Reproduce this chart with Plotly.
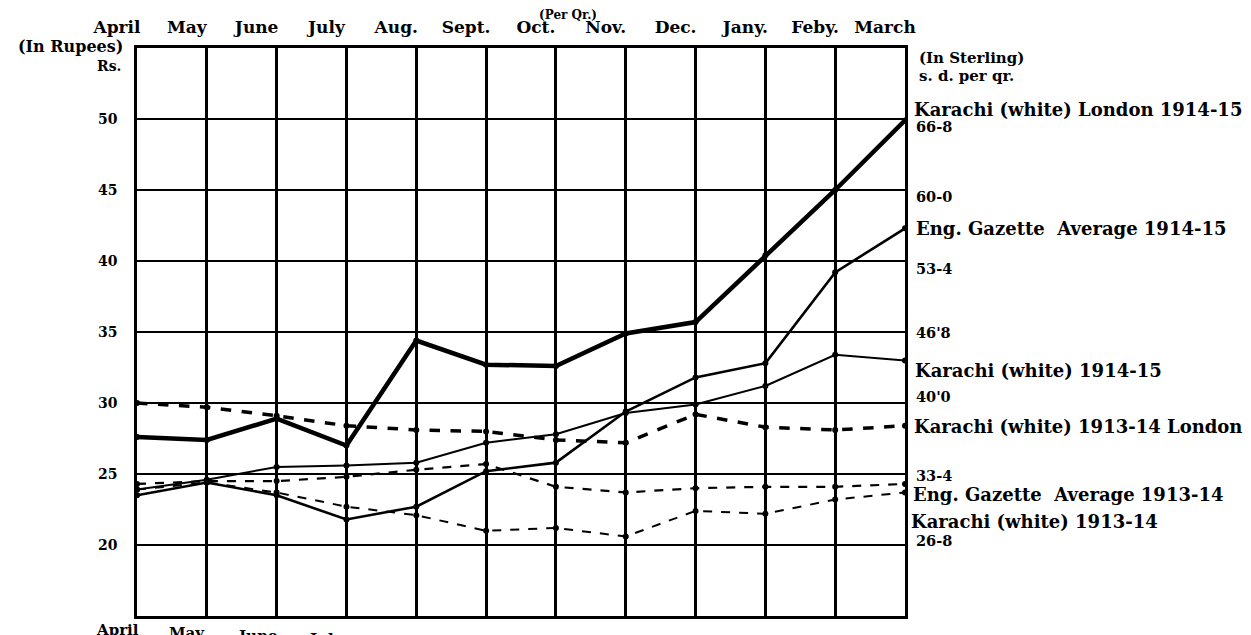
import plotly.graph_objects as go

# ---------------- data ----------------
months_top = ["April", "May", "June", "July", "Aug.", "Sept.", "Oct.", "Nov.",
              "Dec.", "Jany.", "Feby.", "March"]
months_bottom = ["April", "May", "June", "July", "Aug.", "Sept.", "Oct.", "Nov.",
                 "Dec.", "Jany.", "Feby.", "March"]
month_idx = list(range(12))

rupee_ticks = [20, 25, 30, 35, 40, 45, 50]
sterling_labels = ["26-8", "33-4", "40'0", "46'8", "53-4", "60-0", "66-8"]

karachi_london_1914 = [27.6, 27.4, 28.9, 27.0, 34.4, 32.7, 32.6, 34.9, 35.7, 40.4, 45.0, 49.9]
eng_gazette_1914 = [23.5, 24.4, 23.5, 21.8, 22.7, 25.2, 25.8, 29.4, 31.8, 32.8, 39.2, 42.3]
karachi_white_1914 = [23.9, 24.6, 25.5, 25.6, 25.8, 27.2, 27.8, 29.3, 29.9, 31.2, 33.4, 33.0]
karachi_london_1913 = [30.0, 29.7, 29.1, 28.4, 28.1, 28.0, 27.4, 27.2, 29.2, 28.3, 28.1, 28.4]
eng_gazette_1913 = [24.3, 24.5, 24.5, 24.8, 25.3, 25.7, 24.1, 23.7, 24.0, 24.1, 24.1, 24.3]
karachi_white_1913 = [23.9, 24.4, 23.7, 22.7, 22.1, 21.0, 21.2, 20.6, 22.4, 22.2, 23.2, 23.7]

series = [
    ("Karachi (white) London 1914-15", karachi_london_1914, 4.5, "solid"),
    ("Eng. Gazette Average 1914-15", eng_gazette_1914, 2.6, "solid"),
    ("Karachi (white) 1914-15", karachi_white_1914, 2.0, "solid"),
    ("Karachi (white) 1913-14 London", karachi_london_1913, 3.5, "dash"),
    ("Eng. Gazette Average 1913-14", eng_gazette_1913, 2.2, "dash"),
    ("Karachi (white) 1913-14", karachi_white_1913, 2.0, "dash"),
]

# ---------------- figure ----------------
FONT = "DejaVu Serif"
OFF = 8                      # default page margin of the html body
W, H = 1251 - OFF, 635 - OFF
PL, PR, PT, PB = 137, 905, 48, 616   # plot box in page pixels
ML, MR, MT, MB = PL - OFF, W - (PR - OFF), PT - OFF, H - (PB - OFF)
PH = PB - PT

fig = go.Figure()
for name, vals, w, dash in series:
    fig.add_trace(go.Scatter(
        x=month_idx, y=vals, mode="lines+markers", name=name,
        line=dict(color="black", width=w, dash=dash),
        marker=dict(color="black", size=6),
        cliponaxis=False, showlegend=False,
    ))

def bold(size):
    return dict(family=FONT, size=size, color="black", weight="bold")

annotations = []

# bottom month labels (cut off at page edge, like the scan)
for i, m in enumerate(months_bottom):
    annotations.append(dict(
        x=i, y=0, xref="x", yref="paper", text=m, showarrow=False,
        xanchor="center", yanchor="top", xshift=-20, yshift=-(3 + 3 * i),
        font=bold(15)))

def page_label(text, xpix, ypix, size, anchor="left"):
    annotations.append(dict(
        x=(xpix - PL) / (PR - PL), y=(PB - ypix) / PH, xref="paper", yref="paper",
        text=text, showarrow=False, xanchor=anchor, yanchor="middle", font=bold(size)))

page_label("(Per Qr.)", 568, 15, 12, "center")
page_label("(In Rupees)", 125, 47, 16, "right")
page_label("Rs.", 123, 66, 14, "right")

page_label("(In Sterling)", 917, 58, 15)
page_label("s. d. per qr.", 917, 76, 15)

# sterling equivalents placed just below their rupee gridlines
shift = {50: -7, 45: -6, 40: -7, 35: 0, 30: 7, 25: -1, 20: 5}
for rv, sl in zip(rupee_ticks, sterling_labels):
    annotations.append(dict(
        x=1, y=rv, xref="paper", yref="y", text=sl, showarrow=False,
        xanchor="left", yanchor="middle", xshift=9, yshift=shift[rv],
        font=bold(14.5)))

page_label("Karachi (white) London 1914-15", 912, 109, 18)
page_label("Eng. Gazette  Average 1914-15", 914, 229, 18)
page_label("Karachi (white) 1914-15", 913, 370, 18)
page_label("Karachi (white) 1913-14 London", 912, 426, 18)
page_label("Eng. Gazette  Average 1913-14", 911, 494, 18)
page_label("Karachi (white) 1913-14", 909, 521, 18)

fig.update_layout(
    width=W, height=H,
    margin=dict(l=ML, r=MR, t=MT, b=MB, pad=0),
    paper_bgcolor="white", plot_bgcolor="white",
    annotations=annotations,
    xaxis=dict(
        range=[0, 11], tickmode="array", tickvals=month_idx, ticktext=months_top,
        side="top", showgrid=True, gridcolor="black", gridwidth=2.5,
        showline=True, linecolor="black", linewidth=2.5, mirror=True,
        ticks="", zeroline=False, tickfont=bold(17), automargin=False,
        ticklabelshift=-20, ticklabelstandoff=5,
    ),
    yaxis=dict(
        range=[15, 55], tickmode="array", tickvals=rupee_ticks,
        showgrid=True, gridcolor="black", gridwidth=2.2,
        showline=True, linecolor="black", linewidth=2.5, mirror=True,
        ticks="", zeroline=False, tickfont=bold(14), ticklabelstandoff=14,
        automargin=False,
    ),
)

fig.write_html("out.html")
